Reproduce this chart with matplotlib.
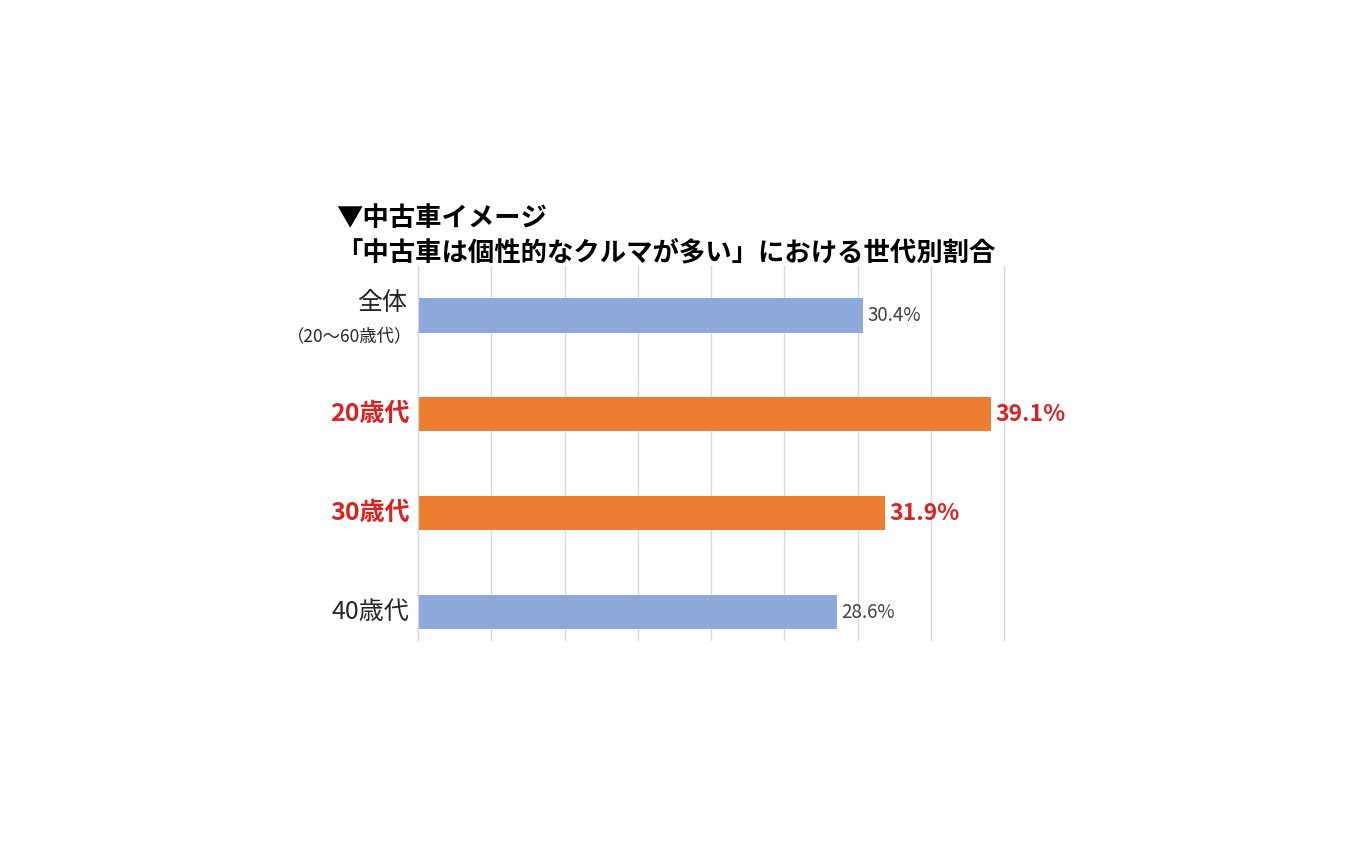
import matplotlib.pyplot as plt
from matplotlib import transforms

plt.rcParams['font.family'] = ['Noto Sans CJK JP', 'DejaVu Sans']

# data
categories = ['全体', '20歳代', '30歳代', '40歳代']
sub_labels = ['（20～60歳代）', '', '', '']
values = [30.4, 39.1, 31.9, 28.6]
highlight = [False, True, True, False]
title_lines = ['▼中古車イメージ', '「中古車は個性的なクルマが多い」における世代別割合']

BLUE = '#8EA9DB'
ORANGE = '#ED7D31'
RED = '#D92323'
GRAY = '#404040'

fig = plt.figure(figsize=(13.5, 8.44), dpi=100)
W, H = 1350, 844
# plot area in pixels: left 418, right 1004, top 266, bottom 640
ax = fig.add_axes([418 / W, 1 - 640 / H, (1004 - 418) / W, (640 - 266) / H])

ypos = list(range(len(categories)))
colors = [ORANGE if h else BLUE for h in highlight]
ax.barh(ypos, values, height=0.345, color=colors, zorder=2)

ax.set_xlim(0, 40)
ax.set_ylim(3.28, -0.5)
ax.set_xticks(range(0, 41, 5))
ax.set_xticklabels([])
ax.tick_params(axis='x', length=0)
ax.set_yticks([])
ax.grid(axis='x', color='#D9D9D9', linewidth=1, zorder=0)
for line in ax.get_xgridlines():
    line.set_clip_on(False)
for s in ['top', 'right', 'bottom']:
    ax.spines[s].set_visible(False)
ax.spines['left'].set_color('#D9D9D9')

# category labels
trans = transforms.blended_transform_factory(ax.transAxes, ax.transData)
for y, cat, sub, h in zip(ypos, categories, sub_labels, highlight):
    if sub:
        ax.annotate(cat, xy=(0, y), xycoords=trans, xytext=(-8, 9),
                    textcoords='offset points', ha='right', va='center',
                    fontsize=18, color='#262626')
        ax.annotate(sub, xy=(0, y), xycoords=trans, xytext=(-4, -15),
                    textcoords='offset points', ha='right', va='center',
                    fontsize=12.5, color='#262626')
    else:
        ax.annotate(cat, xy=(0, y), xycoords=trans, xytext=(-6, 0),
                    textcoords='offset points', ha='right', va='center',
                    fontsize=18, color=RED if h else '#262626',
                    fontweight='bold' if h else 'normal')

# value labels
for y, v, h in zip(ypos, values, highlight):
    ax.annotate(f'{v:.1f}%', xy=(v, y), xytext=(3, 0),
                textcoords='offset points', ha='left', va='center',
                fontsize=16.5 if h else 13.5,
                fontweight='bold' if h else 'normal',
                color=RED if h else GRAY)

# title
fig.text(336 / W, 1 - 218 / H, title_lines[0], fontsize=19, fontweight='bold',
         ha='left', va='center', color='black')
fig.text(336 / W, 1 - 253 / H, title_lines[1], fontsize=19, fontweight='bold',
         ha='left', va='center', color='black')

fig.savefig('out.png', dpi=100)
